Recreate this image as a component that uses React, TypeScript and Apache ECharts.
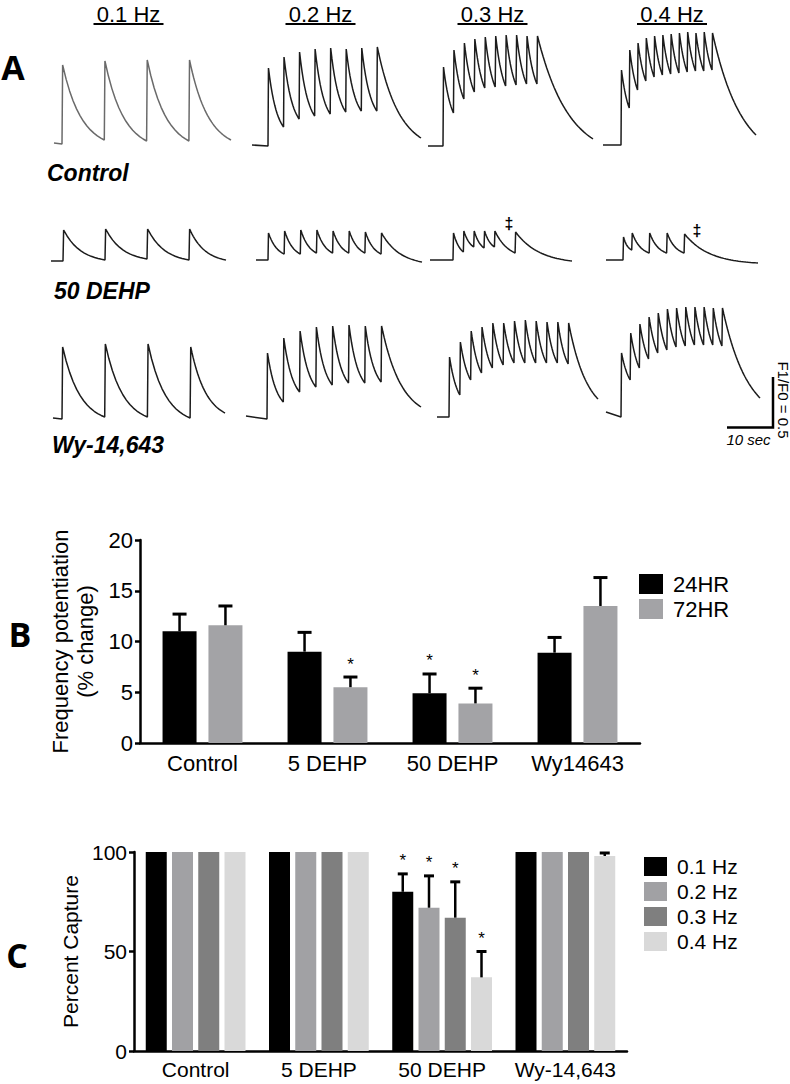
import React, { useEffect, useRef } from "react";
import * as echarts from "echarts";

// ---------------- Panel A : calcium transient traces ----------------
const freqLabels = ["0.1 Hz", "0.2 Hz", "0.3 Hz", "0.4 Hz"];
const freqs = [0.1, 0.2, 1 / 3, 0.4];
const rowLabels = ["Control", "50 DEHP", "Wy-14,643"];

// F1/F0 values (peaks per stimulus, null = no response;
// troughs = level just before each following response)
const ctrl01 = { peaks: [1.8, 1.84, 1.85, 1.85], troughs: [1.05, 1.04, 1.04], base: [1.02, 1.01], end: 1.05 };
const ctrl02 = { peaks: [1.77, 1.88, 1.93, 1.96, 1.97, 1.96, 1.97, 1.98], troughs: [1.18, 1.26, 1.29, 1.31, 1.33, 1.34, 1.34], base: [1.0, 0.99], end: 1.07 };
const ctrl03 = { peaks: [1.78, 1.95, 2.02, 2.06, 2.08, 2.09, 2.1, 2.1, 2.09, 2.09], troughs: [1.32, 1.46, 1.53, 1.57, 1.58, 1.59, 1.6, 1.61, 1.61], base: [0.99, 0.99], end: 1.06 };
const ctrl04 = { peaks: [1.75, 1.95, 2.02, 2.07, 2.09, 2.1, 2.11, 2.12, 2.13, 2.12, 2.13, 2.12], troughs: [1.37, 1.55, 1.64, 1.68, 1.7, 1.71, 1.72, 1.73, 1.74, 1.74, 1.75], base: [1.0, 1.0], end: 1.1 };

const dehp01 = { peaks: [1.3, 1.31, 1.31, 1.31], troughs: [1.0, 1.01, 1.0], base: [0.99, 0.99], end: 1.0 };
const dehp02 = { peaks: [1.27, 1.29, 1.3, 1.3, 1.29, 1.29, 1.28, 1.27], troughs: [1.06, 1.06, 1.07, 1.07, 1.07, 1.07, 1.06], base: [1.0, 1.0], end: 0.98 };
const dehp03 = { peaks: [1.27, 1.29, 1.29, 1.29, 1.29, null, 1.28], troughs: [1.08, 1.13, 1.12, 1.13, 1.07], base: [1.0, 1.0], end: 0.99 };
const dehp04 = { peaks: [1.23, 1.27, null, 1.27, null, 1.27, null, 1.26, null, null, null, null], troughs: [1.1, 1.07, 1.07, 1.07], base: [1.0, 1.0], end: 0.97 };

const wy01 = { peaks: [1.7, 1.73, 1.73, 1.7], troughs: [1.0, 1.0, 0.99], base: [0.99, 0.98], end: 1.04 };
const wy02 = { peaks: [1.64, 1.79, 1.86, 1.9, 1.91, 1.92, 1.91, 1.91], troughs: [1.15, 1.25, 1.3, 1.32, 1.34, 1.34, 1.35], base: [1.01, 0.98], end: 1.1 };
const wy03 = { peaks: [1.6, 1.75, 1.86, 1.9, 1.94, 1.94, 1.96, 1.97, 1.96, 1.95, 1.95, 1.94], troughs: [1.22, 1.37, 1.44, 1.49, 1.52, 1.54, 1.54, 1.54, 1.54, 1.54, 1.53], base: [1.0, 1.0], end: 1.18 };
const wy04 = { peaks: [1.64, 1.84, 1.93, 2.0, 2.04, 2.08, 2.09, 2.1, 2.1, 2.1, 2.09, 2.09], troughs: [1.37, 1.49, 1.58, 1.64, 1.67, 1.7, 1.71, 1.72, 1.72, 1.72, 1.71], base: [1.05, 1.0], end: 1.19 };

// missed-beat markers (time s, F1/F0)
const dehp03Missed = [[16.2, 1.37]];
const dehp04Missed = [[21.2, 1.3]];

const traces = [
  [ctrl01, ctrl02, ctrl03, ctrl04],
  [dehp01, dehp02, dehp03, dehp04],
  [wy01, wy02, wy03, wy04],
];

// ---------------- Panel B ----------------
const bCategories = ["Control", "5 DEHP", "50 DEHP", "Wy14643"];
const b24 = [11.0, 9.0, 4.9, 8.9];
const b24Err = [1.7, 1.9, 1.9, 1.5];
const b24Sig = [0, 0, 1, 0];
const b72 = [11.6, 5.5, 3.9, 13.5];
const b72Err = [1.9, 1.0, 1.5, 2.8];
const b72Sig = [0, 1, 1, 0];

// ---------------- Panel C ----------------
const cCategories = ["Control", "5 DEHP", "50 DEHP", "Wy-14,643"];
const cSeriesNames = ["0.1 Hz", "0.2 Hz", "0.3 Hz", "0.4 Hz"];
const c01 = [100, 100, 80, 100];
const c02 = [100, 100, 72, 100];
const c03 = [100, 100, 67, 100];
const c04 = [100, 100, 37, 98];
const c01Err = [0, 0, 9, 0];
const c02Err = [0, 0, 16, 0];
const c03Err = [0, 0, 18, 0];
const c04Err = [0, 0, 13, 1.5];
const cSig = [0, 0, 1, 0];

// ---------------- layout / style (not data) ----------------
const FONT = "Liberation Sans";
const rowRefY = [145, 260, 417]; // pixel of F1/F0 = 1.0 per row
// [xStart, xFirstStim, px per second, xEnd]
const traceLayout = [
  [[54, 62, 4.23, 231], [252, 268, 3.11, 421], [428, 443, 3.48, 593], [603, 621, 3.31, 756]],
  [[51, 63, 4.2, 226], [256, 268, 3.23, 422], [430, 453, 3.45, 572], [606, 623, 3.49, 758]],
  [[53, 62, 4.27, 225], [246, 267, 3.26, 421], [437, 449, 3.61, 598], [606, 621, 3.67, 760]],
];
// decay shape [between beats, final]
const decayShape = [
  [[2.2, 2.2], [1.8, 2.0], [1.3, 1.8], [1.1, 1.5]],
  [[2.4, 2.4], [1.8, 2.2], [1.5, 2.4], [2.0, 3.0]],
  [[2.4, 2.2], [1.8, 2.0], [1.3, 1.6], [1.1, 1.5]],
];

function buildTrace(d: any, f: number, tMin: number, tMax: number, k: number, kEnd: number) {
  const pts: number[][] = [];
  pts.push([tMin, d.base[0]]);
  pts.push([0, d.base[1]]);
  const resp: number[] = [];
  d.peaks.forEach((p: number | null, i: number) => { if (p != null) resp.push(i); });
  const rise = 0.15;
  resp.forEach((idx, r) => {
    const t0 = idx / f;
    const peak = d.peaks[idx];
    pts.push([t0 + rise, peak]);
    const last = r === resp.length - 1;
    const t1 = last ? tMax : resp[r + 1] / f;
    const lo = last ? d.end : d.troughs[r];
    const kk = last ? kEnd : k;
    const N = last ? 30 : 12;
    for (let s = 1; s <= N; s++) {
      const u = s / N;
      const w = (Math.exp(-kk * u) - Math.exp(-kk)) / (1 - Math.exp(-kk));
      pts.push([t0 + rise + (t1 - t0 - rise) * u, lo + (peak - lo) * w]);
    }
  });
  return pts;
}

function errSeries(name: string, xAxisIndex: number, yAxisIndex: number, means: number[], errs: number[], sig: number[], offset: number, capW: number) {
  return {
    type: "custom",
    name,
    xAxisIndex,
    yAxisIndex,
    z: 5,
    silent: true,
    clip: false,
    data: means.map((m, i) => [i, m, m + errs[i], sig[i]]),
    renderItem: (_p: any, api: any) => {
      const i = api.value(0);
      const m = api.value(1);
      const top = api.value(2);
      const s = api.value(3);
      const p0 = api.coord([i, m]);
      const p1 = api.coord([i, top]);
      const x = p0[0] + offset;
      const children: any[] = [];
      if (top > m) {
        children.push({ type: "line", shape: { x1: x, y1: p0[1], x2: x, y2: p1[1] }, style: { stroke: "#000", lineWidth: 2.5 } });
        children.push({ type: "line", shape: { x1: x - capW / 2, y1: p1[1], x2: x + capW / 2, y2: p1[1] }, style: { stroke: "#000", lineWidth: 3 } });
      }
      if (s) {
        children.push({
          type: "text",
          x,
          y: p1[1] - 13,
          style: { text: "*", fill: "#000", fontSize: 17, fontFamily: FONT, align: "center", verticalAlign: "middle" },
        });
      }
      return { type: "group", children };
    },
  };
}

export default function App() {
  const ref = useRef<HTMLDivElement>(null);
  useEffect(() => {
    document.body.style.margin = "0";
    if (!ref.current) return;
    const chart = echarts.init(ref.current, undefined, { renderer: "svg" });

    const grid: any[] = [];
    const xAxis: any[] = [];
    const yAxis: any[] = [];
    const series: any[] = [];

    traces.forEach((row, r) => {
      row.forEach((d, c) => {
        const [xs, xf, pps, xe] = traceLayout[r][c];
        const tMin = (xs - xf) / pps;
        const tMax = (xe - xf) / pps;
        const gi = grid.length;
        grid.push({ left: xs, top: rowRefY[r] - 120, width: xe - xs, height: 140 });
        xAxis.push({ gridIndex: gi, type: "value", min: tMin, max: tMax, show: false });
        yAxis.push({ gridIndex: gi, type: "value", min: 0.8, max: 2.2, show: false });
        const [k, kEnd] = decayShape[r][c];
        series.push({
          type: "line",
          name: rowLabels[r] + " " + freqLabels[c],
          xAxisIndex: gi,
          yAxisIndex: gi,
          data: buildTrace(d, freqs[c], tMin, tMax, k, kEnd),
          showSymbol: false,
          symbol: "none",
          silent: true,
          clip: false,
          lineStyle: { color: r === 0 && c === 0 ? "#6a6a6a" : "#1c1c1c", width: 1.5 },
        });
      });
    });

    const missedMarks = (gi: number, pts: number[][]) => ({
      type: "custom",
      name: "missed",
      xAxisIndex: gi,
      yAxisIndex: gi,
      data: pts,
      silent: true,
      clip: false,
      z: 10,
      renderItem: (_p: any, api: any) => {
        const p = api.coord([api.value(0), api.value(1)]);
        return {
          type: "text",
          x: p[0],
          y: p[1],
          style: { text: "\u2021", fill: "#000", fontSize: 16, fontWeight: "bold", fontFamily: FONT, align: "center", verticalAlign: "middle" },
        };
      },
    });
    series.push(missedMarks(6, dehp03Missed));
    series.push(missedMarks(7, dehp04Missed));

    // Panel B grid (index 12)
    const gB = grid.length;
    grid.push({ left: 140, top: 540, width: 500, height: 203 });
    xAxis.push({
      gridIndex: gB,
      type: "category",
      data: bCategories,
      axisLine: { lineStyle: { color: "#000", width: 2.5 } },
      axisTick: { alignWithLabel: true, length: 6, lineStyle: { color: "#000", width: 2.5 } },
      axisLabel: { fontSize: 22, color: "#000", margin: 9, fontFamily: FONT, interval: 0 },
    });
    yAxis.push({
      gridIndex: gB,
      type: "value",
      min: 0,
      max: 20,
      interval: 5,
      axisLine: { show: true, lineStyle: { color: "#000", width: 2.5 } },
      axisTick: { show: true, length: 5, lineStyle: { color: "#000", width: 2.5 } },
      axisLabel: { fontSize: 22, color: "#000", margin: 7, fontFamily: FONT },
      splitLine: { show: false },
      name: "Frequency potentiation\n(% change)",
      nameLocation: "middle",
      nameRotate: 90,
      nameGap: 34,
      nameTextStyle: { fontSize: 22, lineHeight: 25, color: "#000", fontFamily: FONT },
    });
    series.push({ type: "bar", name: "24HR", xAxisIndex: gB, yAxisIndex: gB, data: b24, barWidth: 34, barGap: "35%", itemStyle: { color: "#000" }, silent: true });
    series.push({ type: "bar", name: "72HR", xAxisIndex: gB, yAxisIndex: gB, data: b72, barWidth: 34, barGap: "35%", itemStyle: { color: "#a3a3a6" }, silent: true });
    series.push(errSeries("err24", gB, gB, b24, b24Err, b24Sig, -22.95, 14));
    series.push(errSeries("err72", gB, gB, b72, b72Err, b72Sig, 22.95, 14));

    // Panel C grid (index 13)
    const gC = grid.length;
    grid.push({ left: 134, top: 852, width: 493, height: 199 });
    xAxis.push({
      gridIndex: gC,
      type: "category",
      data: cCategories,
      axisLine: { lineStyle: { color: "#000", width: 2.5 } },
      axisTick: { alignWithLabel: true, length: 6, lineStyle: { color: "#000", width: 2.5 } },
      axisLabel: { fontSize: 21, color: "#000", margin: 8, fontFamily: FONT, interval: 0 },
    });
    yAxis.push({
      gridIndex: gC,
      type: "value",
      min: 0,
      max: 100,
      interval: 50,
      axisLine: { show: true, lineStyle: { color: "#000", width: 2.5 } },
      axisTick: { show: true, length: 5, lineStyle: { color: "#000", width: 2.5 } },
      axisLabel: { fontSize: 21, color: "#000", margin: 7, fontFamily: FONT },
      splitLine: { show: false },
      name: "Percent Capture",
      nameLocation: "middle",
      nameRotate: 90,
      nameGap: 46,
      nameTextStyle: { fontSize: 21, color: "#000", fontFamily: FONT },
    });
    const cVals = [c01, c02, c03, c04];
    const cErrs = [c01Err, c02Err, c03Err, c04Err];
    const cColors = ["#000000", "#a1a1a4", "#7f7f7f", "#d9d9d9"];
    cVals.forEach((v, i) => {
      series.push({ type: "bar", name: cSeriesNames[i], xAxisIndex: gC, yAxisIndex: gC, data: v, barWidth: 21, barGap: "25%", itemStyle: { color: cColors[i] }, silent: true });
    });
    cVals.forEach((v, i) => {
      series.push(errSeries("errC" + i, gC, gC, v, cErrs[i], cSig, (i - 1.5) * 26.25, 10));
    });

    const graphic: any[] = [];
    // panel letters
    const letter = (t: string, x: number, y: number) => ({
      type: "text",
      x,
      y,
      style: { text: t, fontSize: 34, fontWeight: "bold", fontFamily: "Open Sans", fill: "#000", align: "center", verticalAlign: "middle" },
    });
    graphic.push(letter("A", 13, 67), letter("B", 20, 634), letter("C", 17, 955));
    // frequency titles with underline
    const titleX = [128.5, 320.5, 492.5, 672];
    freqLabels.forEach((t, i) => {
      graphic.push({
        type: "text",
        x: titleX[i],
        y: 14,
        style: { text: t, fontSize: 22, fontFamily: FONT, fill: "#000", align: "center", verticalAlign: "middle" },
      });
      graphic.push({ type: "line", shape: { x1: titleX[i] - 35, y1: 24, x2: titleX[i] + 35, y2: 24 }, style: { stroke: "#000", lineWidth: 2 } });
    });
    // row labels
    const rowLabelPos = [[47, 173], [54, 291], [52, 445]];
    rowLabels.forEach((t, i) => {
      graphic.push({
        type: "text",
        x: rowLabelPos[i][0],
        y: rowLabelPos[i][1],
        style: { text: t, fontSize: 23, fontWeight: "bold", fontStyle: "italic", fontFamily: FONT, fill: "#000", align: "left", verticalAlign: "middle" },
      });
    });
    // scale bar
    graphic.push({ type: "polyline", shape: { points: [[773, 377], [773, 427.5], [727, 427.5]] }, style: { stroke: "#000", lineWidth: 2.5, fill: "none" } });
    graphic.push({ type: "text", x: 748.5, y: 439, style: { text: "10 sec", fontSize: 15, fontStyle: "italic", fontFamily: FONT, fill: "#000", align: "center", verticalAlign: "middle" } });
    graphic.push({ type: "text", x: 783, y: 400, rotation: -Math.PI / 2, style: { text: "F1/F0 = 0.5", fontSize: 15, fontFamily: FONT, fill: "#000", align: "center", verticalAlign: "middle" } });

    chart.setOption({
      animation: false,
      textStyle: { fontFamily: FONT, color: "#000" },
      grid,
      xAxis,
      yAxis,
      series,
      graphic,
      legend: [
        {
          data: ["24HR", "72HR"],
          orient: "vertical",
          left: 639,
          top: 573,
          padding: 0,
          itemWidth: 24,
          itemHeight: 20,
          itemGap: 3,
          icon: "rect",
          selectedMode: false,
          textStyle: { fontSize: 22, lineHeight: 20, color: "#000", fontFamily: FONT, padding: [0, 0, 0, 5] },
        },
        {
          data: cSeriesNames,
          orient: "vertical",
          left: 644,
          top: 856,
          padding: 0,
          itemWidth: 23,
          itemHeight: 19,
          itemGap: 4,
          icon: "rect",
          selectedMode: false,
          textStyle: { fontSize: 21, lineHeight: 19, color: "#000", fontFamily: FONT, padding: [0, 0, 0, 5] },
        },
      ],
    });
    return () => chart.dispose();
  }, []);
  return <div ref={ref} style={{ position: "absolute", left: 0, top: 0, width: 790, height: 1084, background: "#fff" }} />;
}
